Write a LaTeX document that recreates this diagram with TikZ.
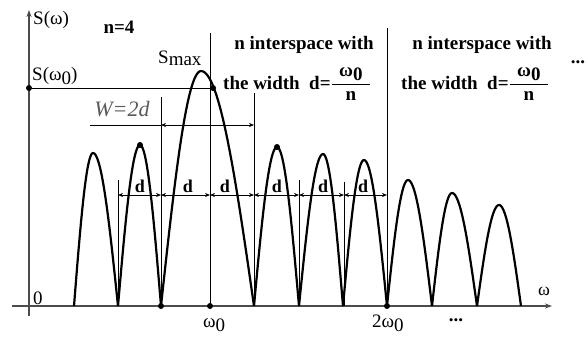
\documentclass[tikz,border=0pt]{standalone}
\usepackage{fontspec}
\usepackage{amsmath}
\setmainfont{Liberation Serif}
\usetikzlibrary{arrows.meta}
\newcommand\lowsub[1]{\raisebox{-0.5ex}{#1}}
\newcommand\fracwo{\genfrac{}{}{1.1pt}{0}{\makebox[38pt]{ω\lowsub{0}}}{\makebox[38pt]{n}}}
\begin{document}
\begin{tikzpicture}[x=1pt,y=-1pt,
 axisline/.style={line width=1.3pt, draw=black!70},
 guide/.style={line width=0.7pt},
 curve/.style={line width=2.2pt, line join=round},
 dimarrow/.style={line width=0.7pt, {Stealth[length=5pt,width=4pt]}-{Stealth[length=5pt,width=4pt]}},
 pt/.style={circle, fill=black, inner sep=0pt, minimum size=6pt},
 txt/.style={inner sep=0pt, font=\fontsize{19}{21}\selectfont},
 btxt/.style={inner sep=0pt, font=\fontsize{19}{21}\selectfont\bfseries}]
\useasboundingbox (0,0) rectangle (588,338);
% axes
\coordinate (ytop) at (29,10);
\coordinate (ybot) at (29,316);
\coordinate (xl) at (12,306);
\coordinate (xr) at (552,306);
\draw[axisline,-{Stealth[length=7pt,width=5pt]}] (ybot) -- (ytop);
\draw[axisline,-{Stealth[length=7pt,width=5pt]}] (xl) -- (xr);
% guides
\coordinate (g1t) at (118,180); \coordinate (g1b) at (118,306);
\coordinate (g2t) at (161,97);  \coordinate (g2b) at (161,306);
\coordinate (g3t) at (210,33);  \coordinate (g3b) at (210,306);
\coordinate (g4t) at (254,93);  \coordinate (g4b) at (254,306);
\coordinate (g5t) at (299,180); \coordinate (g5b) at (299,306);
\coordinate (g6t) at (344,182); \coordinate (g6b) at (344,306);
\coordinate (g7t) at (387,28);  \coordinate (g7b) at (387,306);
\foreach \i in {1,...,7} {\draw[guide] (g\i t) -- (g\i b);}
% S(w0) level
\node[pt] (s0a) at (29,88) {};
\node[pt] (s0b) at (213,88) {};
\draw[guide] (s0a) -- (s0b);
% W=2d
\coordinate (wl) at (90,125);
\coordinate (wm) at (161,125);
\coordinate (wr) at (254,125);
\draw[guide] (wl) -- (wm);
\draw[dimarrow] (wm) -- (wr);
% d arrows
\foreach \x [count=\i] in {118,161,210,254,299,344,387} {\coordinate (d\i) at (\x,195);}
\foreach \i/\j in {1/2,2/3,3/4,4/5,5/6,6/7} {\draw[dimarrow] (d\i) -- (d\j);}
% curves
\foreach \a/\p/\b/\h in {74/93/118/153, 118/140/161/161, 161/201/254/235, 254/277/299/159, 299/323/343/152, 343/364/387/146, 387/408/432/126, 432/452/477/113, 477/499/521/101}{
  \draw[curve] plot[domain=0:90, samples=25, variable=\t] ({\a+(\p-\a)*\t/90},{306-\h*sin(\t)})
     -- plot[domain=90:180, samples=25, variable=\t] ({\p+(\b-\p)*(\t-90)/90},{306-\h*sin(\t)});
}
% dots
\node[pt] (pk2) at (140,145) {};
\node[pt] (pk4) at (277,147) {};
\node[pt] (ax1) at (161,306) {};
\node[pt] (ax2) at (210,306) {};
\node[pt] (ax3) at (387,306) {};
% labels
\node[txt, anchor=base west] (sw) at (33,24) {S(ω)};
\node[btxt, anchor=base] (n4) at (119,33) {n=4};
\node[txt, anchor=base west] (sw0) at (32,80) {S(ω\lowsub{0})};
\node[txt, anchor=base west] (smax) at (158,63) {S\raisebox{-0.25ex}{max}};
\node[btxt, anchor=base] (int1) at (304,49) {n interspace with};
\node[btxt, anchor=base west] (wid1) at (223,89) {the width\ \ d=$\fracwo$};
\node[btxt, anchor=base] (int2) at (482,49) {n interspace with};
\node[btxt, anchor=base west] (wid2) at (401,89) {the width\ \ d=$\fracwo$};
\node[btxt] (dots1) at (578,62) {...};
\node[txt, font=\fontsize{22}{24}\selectfont\itshape, text=black!65] (w) at (122,109) {W=2d};
\foreach \x [count=\i] in {140,188,225,277,323,363} {\node[btxt, font=\fontsize{18}{20}\selectfont\bfseries] (dl\i) at (\x,186) {d};}
\node[txt, anchor=base west] (zero) at (33,304) {0};
\node[txt, anchor=base west] (om0) at (203,327) {ω\lowsub{0}};
\node[txt, anchor=base west] (om20) at (372,327) {2ω\lowsub{0}};
\node[btxt] (dots2) at (456,320) {...};
\node[txt, font=\fontsize{18}{20}\selectfont] (om) at (544,291) {ω};
\end{tikzpicture}
\end{document}
